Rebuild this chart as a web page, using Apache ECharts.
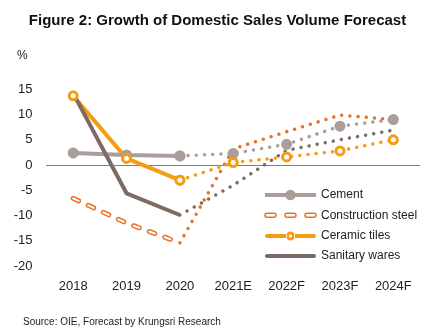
<!DOCTYPE html>
<html>
<head>
<meta charset="utf-8">
<script src="https://cdn.jsdelivr.net/npm/echarts@6/dist/echarts.min.js"></script>
<style>
  html, body { margin: 0; padding: 0; background: #fff; }
  #chart { width: 435px; height: 336px; }
</style>
</head>
<body>
<div id="chart"></div>
<script>
// Years; the last four are estimate / forecast
const categories = ['2018', '2019', '2020', '2021E', '2022F', '2023F', '2024F'];
// Number of actual years (solid lines); the rest is drawn dotted
const actualCount = 3;

// Growth, % YoY
const cement = [2.4, 2.0, 1.8, 2.3, 4.1, 7.7, 9.0];
const constructionSteel = [-6.6, -11.5, -15.4, 3.2, 6.6, 9.9, 9.0];
const ceramicTiles = [13.7, 1.3, -3.0, 0.5, 1.6, 2.8, 5.0];
const sanitaryWares = [14.2, -5.6, -9.9, -4.0, 2.9, 5.0, 6.9];

const yTicks = { min: -20, max: 15, interval: 5 };

const C_CEMENT = '#aa9d9a';
const C_STEEL = '#e8722a';
const C_TILES = '#f59c12';
const C_SANIT = '#7d6a65';
const FONT = 'Liberation Sans';

function actual(arr) {
  return arr.map((v, i) => (i < actualCount ? v : null));
}
function forecast(arr) {
  return arr.map((v, i) => (i >= actualCount - 1 ? v : null));
}

const dotted = { type: [0.01, 8.2], cap: 'round', width: 3.5 };

const series = [
  {
    name: 'Cement', type: 'line', data: actual(cement),
    symbol: 'circle', symbolSize: 11,
    lineStyle: { color: C_CEMENT, width: 4 },
    itemStyle: { color: C_CEMENT }
  },
  {
    name: 'Construction steel', type: 'line', data: actual(constructionSteel),
    symbol: 'none',
    lineStyle: { color: C_STEEL, width: 5, type: [6, 10.6], cap: 'round' },
    itemStyle: { color: C_STEEL }
  },
  {
    // white core that turns the steel dashes into outlined pills
    name: 'steel-core', type: 'line', data: actual(constructionSteel),
    symbol: 'none', silent: true,
    lineStyle: { color: '#fff', width: 2, type: [6, 10.6], cap: 'round' }
  },
  {
    name: 'Ceramic tiles', type: 'line', data: actual(ceramicTiles),
    symbol: 'circle', symbolSize: 8,
    lineStyle: { color: C_TILES, width: 4 },
    itemStyle: { color: '#fff', borderColor: C_TILES, borderWidth: 3 }
  },
  {
    name: 'Sanitary wares', type: 'line', data: actual(sanitaryWares),
    symbol: 'none',
    lineStyle: { color: C_SANIT, width: 4 },
    itemStyle: { color: C_SANIT }
  },
  {
    name: 'Construction steel', type: 'line', data: forecast(constructionSteel),
    symbol: 'none',
    lineStyle: Object.assign({ color: C_STEEL }, dotted)
  },
  {
    name: 'Sanitary wares', type: 'line', data: forecast(sanitaryWares),
    symbol: 'none',
    lineStyle: Object.assign({ color: C_SANIT }, dotted)
  },
  {
    name: 'Cement', type: 'line', data: forecast(cement),
    symbol: 'circle', symbolSize: 11,
    lineStyle: Object.assign({ color: C_CEMENT }, dotted),
    itemStyle: { color: C_CEMENT }
  },
  {
    name: 'Ceramic tiles', type: 'line', data: forecast(ceramicTiles),
    symbol: 'circle', symbolSize: 8,
    lineStyle: Object.assign({ color: C_TILES }, dotted),
    itemStyle: { color: '#fff', borderColor: C_TILES, borderWidth: 3 }
  }
];

// Legend icons drawn in a 51 x 13 box
const ICON_STEEL = 'path://M0,0M51,13' +
  'M2,4.5h7a2,2 0 0 1 0,4h-7a2,2 0 0 1 0,-4z' +
  'M22,4.5h7a2,2 0 0 1 0,4h-7a2,2 0 0 1 0,-4z' +
  'M42,4.5h7a2,2 0 0 1 0,4h-7a2,2 0 0 1 0,-4z';
const ICON_TILES = 'path://M0,0M51,13' +
  'M2,4.5h20v4h-20a2,2 0 0 1 0,-4z' +
  'M29,4.5h20a2,2 0 0 1 0,4h-20z' +
  'M21,6.5a4.5,4.5 0 1 0 9,0a4.5,4.5 0 1 0 -9,0z' +
  'M24,6.5a1.5,1.5 0 1 1 3,0a1.5,1.5 0 1 1 -3,0z';
const ICON_SANIT = 'path://M0,0M51,13M2,4.5h47a2,2 0 0 1 0,4h-47a2,2 0 0 1 0,-4z';

const chart = echarts.init(document.getElementById('chart'), null, { renderer: 'canvas' });
chart.setOption({
  animation: false,
  backgroundColor: '#fff',
  textStyle: { fontFamily: FONT },
  title: {
    text: 'Figure 2: Growth of Domestic Sales Volume Forecast',
    left: 'center', top: 8,
    textStyle: { fontFamily: FONT, fontSize: 15, fontWeight: 'bold', color: '#111' }
  },
  graphic: [
    { type: 'text', left: 17, top: 50, style: { text: '%', font: '12px ' + FONT, fill: '#222' } },
    { type: 'text', left: 23, top: 317, style: { text: 'Source: OIE, Forecast by Krungsri Research', font: '10px ' + FONT, fill: '#222' } }
  ],
  legend: {
    left: 258, top: 184, orient: 'vertical',
    itemWidth: 51, itemHeight: 13, itemGap: 7,
    textStyle: { fontFamily: FONT, fontSize: 12, color: '#222' },
    lineStyle: { width: 'inherit' },
    itemStyle: { borderWidth: 'inherit' },
    data: [
      { name: 'Cement' },
      {
        name: 'Construction steel', icon: ICON_STEEL,
        itemStyle: { color: '#fff', borderColor: C_STEEL, borderWidth: 1.5 }
      },
      {
        name: 'Ceramic tiles', icon: ICON_TILES,
        itemStyle: { color: C_TILES, borderWidth: 0 }
      },
      {
        name: 'Sanitary wares', icon: ICON_SANIT,
        itemStyle: { color: C_SANIT, borderWidth: 0 }
      }
    ]
  },
  grid: { left: 46.5, right: 15, top: 89.3, bottom: 70, containLabel: false },
  xAxis: [
    {
      type: 'category', data: categories, boundaryGap: true,
      axisLine: { show: false, onZero: false }, axisTick: { show: false },
      axisLabel: { margin: 14, fontSize: 13, color: '#222', fontFamily: FONT }
    },
    {
      // zero baseline
      type: 'category', data: categories, boundaryGap: true, position: 'bottom',
      axisLine: { show: true, onZero: true, onZeroAxisIndex: 0, lineStyle: { color: '#7f7f7f', width: 1 } },
      axisTick: { show: false }, axisLabel: { show: false }
    }
  ],
  yAxis: {
    type: 'value', min: yTicks.min, max: yTicks.max, interval: yTicks.interval,
    axisLine: { show: false, onZero: false }, axisTick: { show: false }, splitLine: { show: false },
    axisLabel: { margin: 14, fontSize: 13, color: '#222', fontFamily: FONT }
  },
  series: series
});
</script>
</body>
</html>
